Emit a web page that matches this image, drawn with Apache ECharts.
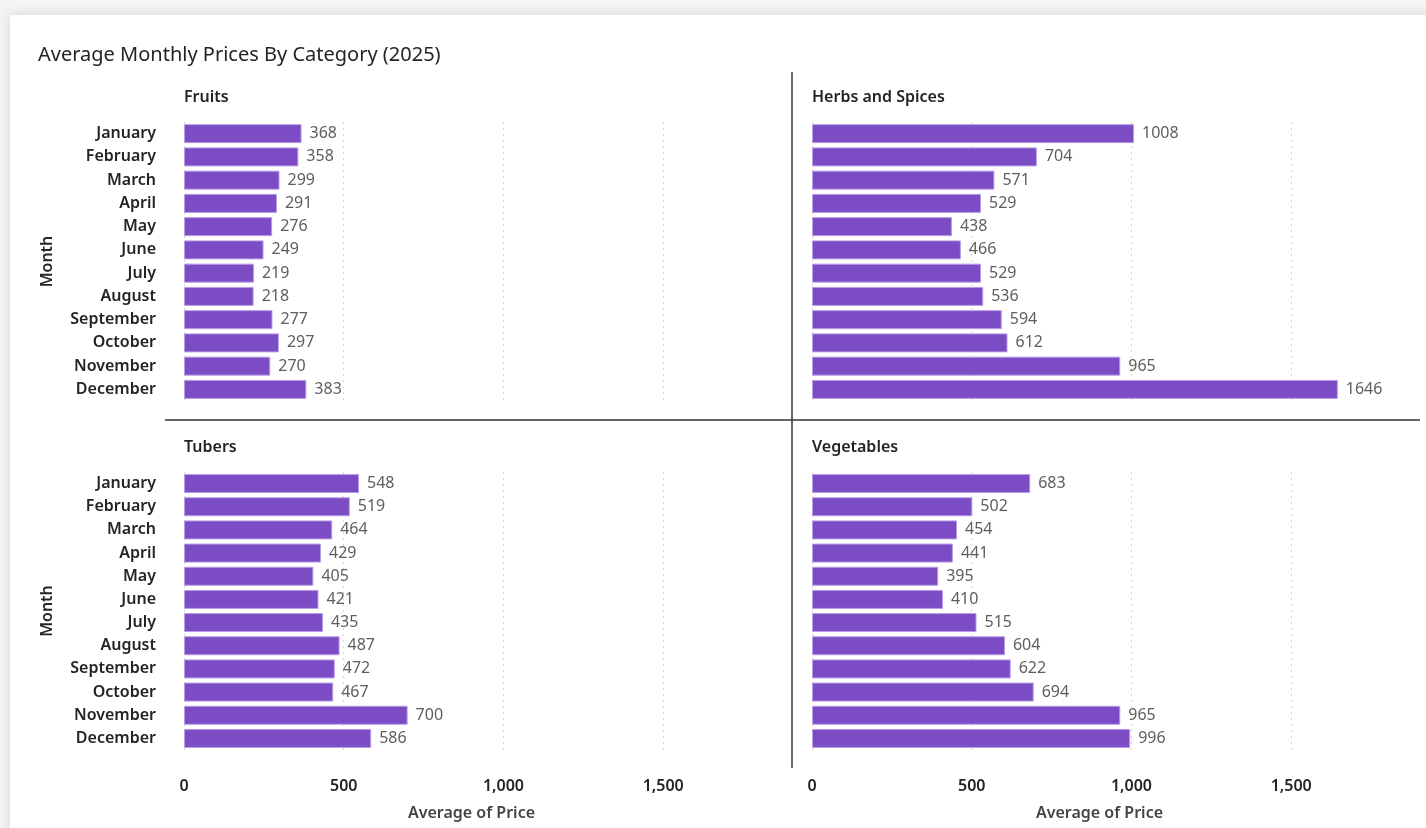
<!DOCTYPE html>
<html><head><meta charset="utf-8">
<script src="https://cdn.jsdelivr.net/npm/echarts@6/dist/echarts.min.js"></script>
<style>html,body{margin:0;padding:0;background:#f4f4f4;}#c{width:1426px;height:828px;}</style>
</head><body><div id="c"></div>
<script>
const months = ['January','February','March','April','May','June','July','August','September','October','November','December'];
const panelNames = ['Fruits','Herbs and Spices','Tubers','Vegetables'];
const fruits = [368,358,299,291,276,249,219,218,277,297,270,383];
const herbs = [1008,704,571,529,438,466,529,536,594,612,965,1646];
const tubers = [548,519,464,429,405,421,435,487,472,467,700,586];
const vegetables = [683,502,454,441,395,410,515,604,622,694,965,996];
const seriesData = [fruits, herbs, tubers, vegetables];

const FONT = '"Noto Sans", "Open Sans", sans-serif';
const grids = [
  {left:184, top:122, width:575, height:279},
  {left:812, top:122, width:575, height:279},
  {left:184, top:472, width:575, height:278},
  {left:812, top:472, width:575, height:278}
];
const chart = echarts.init(document.getElementById('c'));
const xAxes = [], yAxes = [], series = [], titles = [];
titles.push({text:'Average Monthly Prices By Category (2025)', left:33, top:40,
  textStyle:{fontFamily:FONT, fontSize:20, fontWeight:'normal', color:'#252423'}});
grids.forEach((g, i) => {
  const bottom = i >= 2, leftSide = i % 2 === 0;
  titles.push({text:panelNames[i], left:g.left - 5, top:g.top - 38,
    textStyle:{fontFamily:FONT, fontSize:16, fontWeight:600, color:'#252423'}});
  xAxes.push({type:'value', gridIndex:i, min:0, max:1800, interval:500,
    axisLine:{show:false}, axisTick:{show:false},
    axisLabel:{show:bottom, showMaxLabel:false, margin:28, fontFamily:FONT, fontSize:16, fontWeight:600, color:'#252423',
      formatter:v => v.toLocaleString('en-US')},
    splitLine:{show:true, lineStyle:{type:[2,4], width:1, color:['#d6d6d6','#d6d6d6','#d6d6d6','#d6d6d6','rgba(0,0,0,0)']}},
    name: bottom ? 'Average of Price' : '', nameLocation:'middle', nameGap:55,
    nameTextStyle:{fontFamily:FONT, fontSize:16, fontWeight:600, color:'#444'}});
  yAxes.push({type:'category', gridIndex:i, data:months, inverse:true,
    axisLine:{show:false}, axisTick:{show:false},
    axisLabel:{show:leftSide, margin:28, fontFamily:FONT, fontSize:16, fontWeight:600, color:'#252423'},
    name: leftSide ? 'Month' : '', nameLocation:'middle', nameGap:129, nameRotate:90,
    nameTextStyle:{fontFamily:FONT, fontSize:16, fontWeight:600, color:'#252423'}});
  series.push({type:'bar', xAxisIndex:i, yAxisIndex:i, data:seriesData[i], barWidth:19,
    itemStyle:{color:'#7b4cc4', borderColor:'#b89ce6', borderWidth:1},
    label:{show:true, position:'right', distance:8, fontFamily:FONT, fontSize:16, color:'#605e5c'}});
});
chart.setOption({
  backgroundColor:'#f4f4f4',
  animation:false,
  graphic:[
    {type:'rect', z:-10, shape:{x:10, y:15, width:1430, height:830},
      style:{fill:'#ffffff', shadowBlur:12, shadowColor:'rgba(0,0,0,0.12)'}},
    {type:'line', z:10, shape:{x1:792, y1:72, x2:792, y2:768}, style:{stroke:'#333', lineWidth:1.5}},
    {type:'line', z:10, shape:{x1:165, y1:420, x2:1420, y2:420}, style:{stroke:'#333', lineWidth:1.5}}
  ],
  title:titles, grid:grids, xAxis:xAxes, yAxis:yAxes, series:series
});
</script></body></html>
